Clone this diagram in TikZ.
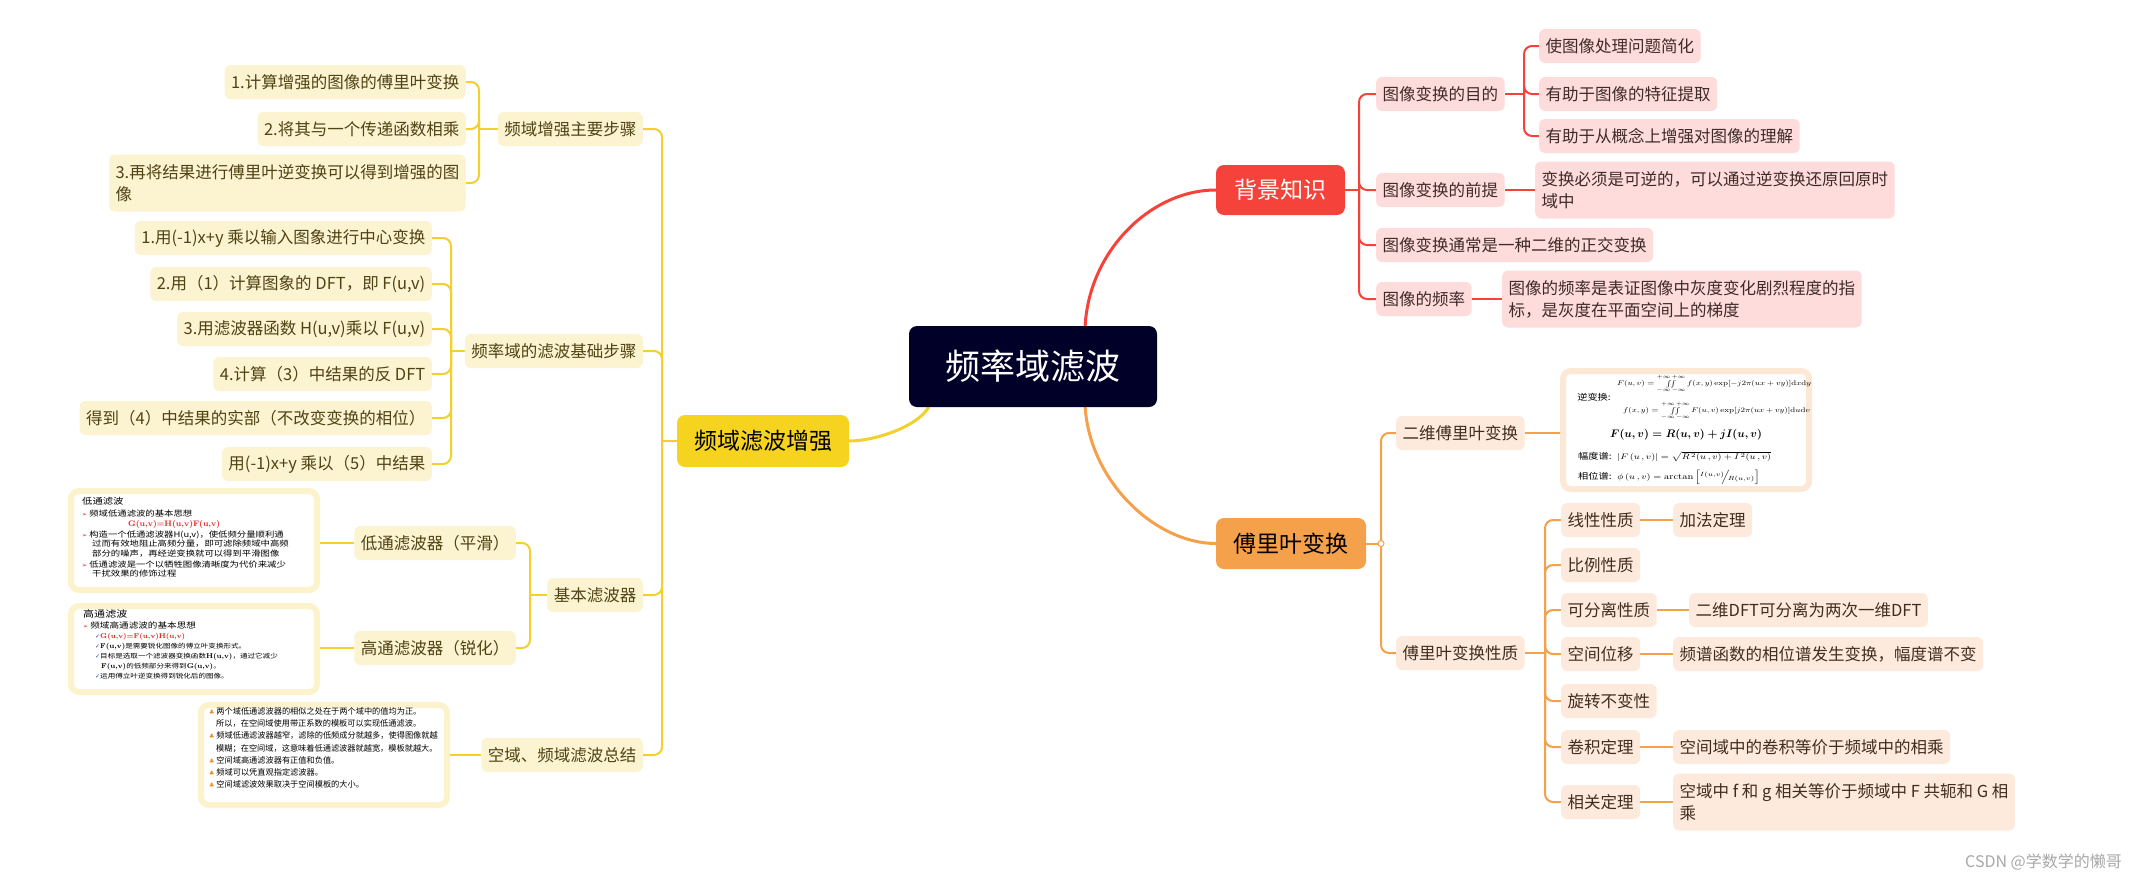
\documentclass[tikz,border=0pt]{standalone}
\usepackage{fontspec}
\usepackage{amsmath}
\usepackage{graphicx}
\usetikzlibrary{calc,backgrounds}
\newfontfamily\cjk{Noto Sans CJK SC}
\newfontfamily\cjkw[FakeStretch=1.2]{Noto Sans CJK SC}
\newfontfamily\dejavu{DejaVu Sans}
\definecolor{navy}{HTML}{000028}
\definecolor{rMain}{HTML}{F5433B}
\definecolor{rLight}{HTML}{FDDCDB}
\definecolor{rText}{HTML}{3F2A2A}
\definecolor{oMain}{HTML}{F5A04A}
\definecolor{oLight}{HTML}{FDEADC}
\definecolor{oText}{HTML}{3F2E20}
\definecolor{yMain}{HTML}{F5D31E}
\definecolor{yLine}{HTML}{F3D02C}
\definecolor{yLight}{HTML}{FCF3D0}
\definecolor{yText}{HTML}{4F4214}
\definecolor{oBorder}{HTML}{FDE8D6}
\definecolor{yBorder}{HTML}{FCF3CD}
\definecolor{arrred}{HTML}{E02020}
\definecolor{chkblue}{HTML}{2848B0}
\definecolor{clubor}{HTML}{E08A20}
\definecolor{wmgray}{HTML}{A8A8A8}
\newcommand{\myarr}{{\color{arrred}\dejavu\fontsize{6}{6}\selectfont ➢}}
\newcommand{\mychk}{{\color{chkblue}\dejavu\fontsize{6}{6}\selectfont ✓}}
\newcommand{\myclub}{{\color{clubor}\dejavu\fontsize{6}{6}\selectfont ♣}}
\newcommand{\bseq}[1]{{\normalfont\fontsize{7}{8}\selectfont\bfseries #1}}
\tikzset{
  box/.style={rounded corners=6pt, inner xsep=6.5pt, inner ysep=0pt, minimum height=34pt,
    font=\cjk\fontsize{16.5}{22}\selectfont},
  rbox/.style={box, fill=rLight, text=rText},
  obox/.style={box, fill=oLight, text=oText},
  ybox/.style={box, fill=yLight, text=yText},
  twoline/.style={align=left, minimum height=57pt},
  mainbox/.style={rounded corners=8pt, inner sep=0pt, font=\cjk\fontsize{23}{28}\selectfont},
  imgbox/.style={draw=#1, line width=6pt, rounded corners=8pt, fill=white, inner sep=0pt},
  mline/.style={line width=3pt},
  rline/.style={draw=rMain, line width=2pt, rounded corners=8pt},
  oline/.style={draw=oMain, line width=2pt, rounded corners=8pt},
  yline/.style={draw=yLine, line width=2pt, rounded corners=8pt},
  ftxt/.style={anchor=west, inner sep=0pt, font=\fontsize{#1}{#1}\selectfont},
}
\begin{document}
\begin{tikzpicture}[x=1pt,y=-1pt]
\begin{pgfonlayer}{background}
\fill[white] (0,0) rectangle (2136,884);
\end{pgfonlayer}
\useasboundingbox (0,0) rectangle (2136,884);

% central
\node[rounded corners=8pt, fill=navy, text=white, minimum width=248pt, minimum height=81pt,
  inner sep=0pt, font=\cjk\fontsize{35}{40}\selectfont] (c) at (1033,366.5) {频率域滤波};

% main branches
\node[mainbox, fill=rMain, text=white, minimum width=129pt, minimum height=50pt] (bj) at (1280.5,190) {背景知识};
\node[mainbox, fill=oMain, text=black, minimum width=150pt, minimum height=51pt] (fl) at (1291,543.5) {傅里叶变换};
\node[mainbox, fill=yMain, text=black, minimum width=172pt, minimum height=52pt] (fy) at (763,441) {频域滤波增强};

% red branch
\coordinate (tR) at (1359,190);
\node[rbox, anchor=west] (p1) at (1376,94) {图像变换的目的};
\node[rbox, anchor=west] (p2) at (1376,190) {图像变换的前提};
\node[rbox, anchor=west] (p3) at (1376,245) {图像变换通常是一种二维的正交变换};
\node[rbox, anchor=west] (p4) at (1376,299) {图像的频率};
\coordinate (tR1) at (1524,94);
\node[rbox, anchor=west] (q1) at (1539,46) {使图像处理问题简化};
\node[rbox, anchor=west] (q2) at (1539,94) {有助于图像的特征提取};
\node[rbox, anchor=west] (q3) at (1539,136) {有助于从概念上增强对图像的理解};
\node[rbox, twoline, anchor=west] (q4) at (1535,190) {变换必须是可逆的，可以通过逆变换还原回原时\\域中};
\node[rbox, twoline, anchor=west] (q5) at (1502,299) {图像的频率是表证图像中灰度变化剧烈程度的指\\标，是灰度在平面空间上的梯度};

% orange branch
\coordinate (tO) at (1381,543.5);
\node[obox, anchor=west] (r1) at (1396,433) {二维傅里叶变换};
\node[obox, anchor=west] (r2) at (1396,653) {傅里叶变换性质};
\node[imgbox=oBorder, minimum width=246pt, minimum height=118pt] (fimg) at (1686,430) {};
\node[anchor=center, inner sep=0pt, font=\cjkw\fontsize{8.5}{9}\selectfont] (fa) at (1594,397) {逆变换:};
\node[ftxt=8] (fb) at (1617,384) {\scalebox{1.05}[0.85]{$\textstyle F(u,v)=\mathop{\iint}\limits_{-\infty\,-\infty}^{+\infty\,+\infty} f(x,y)\exp[-j2\pi(ux+vy)]\mathrm{d}x\mathrm{d}y$}};
\node[ftxt=8] (fc) at (1623,411) {\scalebox{1.05}[0.85]{$\textstyle f(x,y)=\mathop{\iint}\limits_{-\infty\,-\infty}^{+\infty\,+\infty} F(u,v)\exp[j2\pi(ux+vy)]\mathrm{d}u\mathrm{d}v$}};
\node[ftxt=10.5] (fd) at (1610,435) {$\boldsymbol{F(u,v)=R(u,v)+jI(u,v)}$};
\node[ftxt=8.5] (fe) at (1578,457) {{\cjkw 幅度谱:}\ \ \scalebox{1.2}[1]{$|F\,(u\,,v)|=\sqrt{R^{\,2}(u\,,v)+I^{\,2}(u\,,v)}$}};
\node[ftxt=8.5] (ff) at (1578,477) {{\cjkw 相位谱:}\ \ \scalebox{1.2}[1]{$\phi\,(u\,,v)=\arctan\left[{}^{I(u,v)}\!\!\Big/\!{}_{R(u,v)}\right]$}};
\coordinate (tO2) at (1545,653);
\node[obox, anchor=west] (s1) at (1561,520) {线性性质};
\node[obox, anchor=west] (s2) at (1561,565) {比例性质};
\node[obox, anchor=west] (s3) at (1561,610) {可分离性质};
\node[obox, anchor=west] (s4) at (1561,654) {空间位移};
\node[obox, anchor=west] (s5) at (1561,701) {旋转不变性};
\node[obox, anchor=west] (s6) at (1561,747) {卷积定理};
\node[obox, anchor=west] (s7) at (1561,802) {相关定理};
\node[obox, anchor=west] (s1c) at (1673,520) {加法定理};
\node[obox, anchor=west] (s3c) at (1689,610) {二维DFT可分离为两次一维DFT};
\node[obox, anchor=west] (s4c) at (1673,654) {频谱函数的相位谱发生变换，幅度谱不变};
\node[obox, anchor=west] (s6c) at (1673,747) {空间域中的卷积等价于频域中的相乘};
\node[obox, twoline, anchor=west] (s7c) at (1673,802) {空域中 f 和 g 相关等价于频域中 F 共轭和 G 相\\乘};

% yellow branch
\coordinate (tY) at (662,441);
\node[ybox, anchor=east] (y1) at (643,129) {频域增强主要步骤};
\node[ybox, anchor=east] (y2) at (643,351) {频率域的滤波基础步骤};
\node[ybox, anchor=east] (y3) at (643,595) {基本滤波器};
\node[ybox, anchor=east] (y4) at (643,755) {空域、频域滤波总结};
\coordinate (tY1) at (479,129);
\node[ybox, anchor=east] (a1) at (466,82) {1.计算增强的图像的傅里叶变换};
\node[ybox, anchor=east] (a2) at (466,129) {2.将其与一个传递函数相乘};
\node[ybox, twoline, anchor=east] (a3) at (466,183) {3.再将结果进行傅里叶逆变换可以得到增强的图\\像};
\coordinate (tY2) at (451,351);
\node[ybox, anchor=east] (b1) at (432,238) {1.用(-1)x+y 乘以输入图象进行中心变换};
\node[ybox, anchor=east] (b2) at (432,284) {2.用（1）计算图象的 DFT，即 F(u,v)};
\node[ybox, anchor=east] (b3) at (432,329) {3.用滤波器函数 H(u,v)乘以 F(u,v)};
\node[ybox, anchor=east] (b4) at (432,374) {4.计算（3）中结果的反 DFT};
\node[ybox, anchor=east] (b5) at (432,418) {得到（4）中结果的实部（不改变变换的相位）};
\node[ybox, anchor=east] (b6) at (432,464) {用(-1)x+y 乘以（5）中结果};
\coordinate (tY3) at (530,595);
\node[ybox, anchor=east] (d1) at (516,543) {低通滤波器（平滑）};
\node[ybox, anchor=east] (d2) at (516,648) {高通滤波器（锐化）};

% low-pass image
\node[imgbox=yBorder, minimum width=246pt, minimum height=99pt] (lpimg) at (194,540.5) {};
\node[anchor=north west, align=left, inner sep=0pt, font=\cjkw\fontsize{7.8}{9.6}\selectfont] (lptxt) at (82,497)
  {{\fontsize{8.6}{10}\selectfont 低通滤波}\\[2pt]
   \myarr\ 频域低通滤波的基本思想\\[1pt]
   \hspace*{46pt}{\color{arrred}\normalfont\fontsize{8}{9}\selectfont\bfseries G(u,v)=H(u,v)F(u,v)}\\[1pt]
   \myarr\ 构造一个低通滤波器H(u,v)，使低频分量顺利通\\
   \hspace*{10pt}过而有效地阻止高频分量，即可滤除频域中高频\\
   \hspace*{10pt}部分的噪声，再经逆变换就可以得到平滑图像\\[1pt]
   \myarr\ 低通滤波是一个以牺牲图像清晰度为代价来减少\\
   \hspace*{10pt}干扰效果的修饰过程};

% high-pass image
\node[imgbox=yBorder, minimum width=246pt, minimum height=86pt] (hpimg) at (194,649) {};
\node[anchor=north west, align=left, inner sep=0pt, font=\cjkw\fontsize{6.3}{10}\selectfont] (hptxt) at (83,610)
  {{\fontsize{9.2}{11}\selectfont 高通滤波}\\[1pt]
   {\fontsize{8}{10}\selectfont\myarr\ 频域高通滤波的基本思想}\\
   \hspace*{12pt}\mychk{\color{arrred}\bseq{G(u,v)=F(u,v)H(u,v)}}\\
   \hspace*{12pt}\mychk\bseq{F(u,v)}是需要锐化图像的傅立叶变换形式。\\
   \hspace*{12pt}\mychk 目标是选取一个滤波器变换函数\bseq{H(u,v)}，通过它减少\\
   \hspace*{18pt}\bseq{F(u,v)}的低频部分来得到\bseq{G(u,v)}。\\
   \hspace*{12pt}\mychk 运用傅立叶逆变换得到锐化后的图像。};

% summary image
\node[imgbox=yBorder, minimum width=246pt, minimum height=100pt] (smimg) at (324,755) {};
\node[anchor=north west, align=left, inner sep=0pt, font=\cjk\fontsize{8.2}{12.3}\selectfont] (smtxt) at (209,707)
  {\myclub\ 两个域低通滤波器的相似之处在于两个域中的值均为正。\\
   \hspace*{7pt}所以，在空间域使用带正系数的模板可以实现低通滤波。\\
   \myclub\ 频域低通滤波器越窄，滤除的低频成分就越多，使得图像就越\\
   \hspace*{7pt}模糊；在空间域，这意味着低通滤波器就越宽，模板就越大。\\
   \myclub\ 空间域高通滤波器有正值和负值。\\
   \myclub\ 频域可以凭直观指定滤波器。\\
   \myclub\ 空间域滤波效果取决于空间模板的大小。};

% watermark
\node[anchor=east, inner sep=0pt, text=wmgray, font=\cjk\fontsize{16}{18}\selectfont] (wm) at (2122,862) {CSDN @学数学的懒哥};

% connectors
\begin{scope}[on background layer]
\draw[mline, draw=rMain] ($(c.north)!0.42!(c.north east)$) .. controls +(4,-75) and +(-65,0) .. (bj.west);
\draw[mline, draw=oMain] ($(c.south)!0.42!(c.south east)$) .. controls +(5,75) and +(-60,0) .. (fl.west);
\draw[mline, draw=yLine] ($(c.south west)!0.08!(c.south east)$) .. controls +(-12,20) and +(25,0) .. (fy.east);

\draw[rline] (bj.east) -- (tR);
\foreach \n in {p1,p2,p3,p4} \draw[rline] (tR) |- (\n.west);
\draw[rline] (p1.east) -- (tR1);
\foreach \n in {q1,q2,q3} \draw[rline] (tR1) |- (\n.west);
\draw[rline] (p2.east) -- (q4.west);
\draw[rline] (p4.east) -- (q5.west);

\draw[oline] (fl.east) -- (tO);
\foreach \n in {r1,r2} \draw[oline] (tO) |- (\n.west);
\draw[oline] (r1.east) -- (r1.east -| fimg.west);
\draw[oline] (r2.east) -- (tO2);
\foreach \n in {s1,s2,s3,s4,s5,s6,s7} \draw[oline] (tO2) |- (\n.west);
\draw[oline] (s1.east) -- (s1c.west);
\draw[oline] (s3.east) -- (s3c.west);
\draw[oline] (s4.east) -- (s4c.west);
\draw[oline] (s6.east) -- (s6c.west);
\draw[oline] (s7.east) -- (s7c.west);

\draw[yline] (fy.west) -- (tY);
\foreach \n in {y1,y2,y3,y4} \draw[yline] (tY) |- (\n.east);
\draw[yline] (y1.west) -- (tY1);
\foreach \n in {a1,a2,a3} \draw[yline] (tY1) |- (\n.east);
\draw[yline] (y2.west) -- (tY2);
\foreach \n in {b1,b2,b3,b4,b5,b6} \draw[yline] (tY2) |- (\n.east);
\draw[yline] (y3.west) -- (tY3);
\foreach \n in {d1,d2} \draw[yline] (tY3) |- (\n.east);
\draw[yline] (d1.west) -- (d1.west -| lpimg.east);
\draw[yline] (d2.west) -- (d2.west -| hpimg.east);
\draw[yline] (y4.west) -- (y4.west -| smimg.east);
\end{scope}
\node[circle, draw=oMain, fill=white, line width=1pt, inner sep=0pt, minimum size=6pt] (knob) at (tO) {};
\end{tikzpicture}
\end{document}
